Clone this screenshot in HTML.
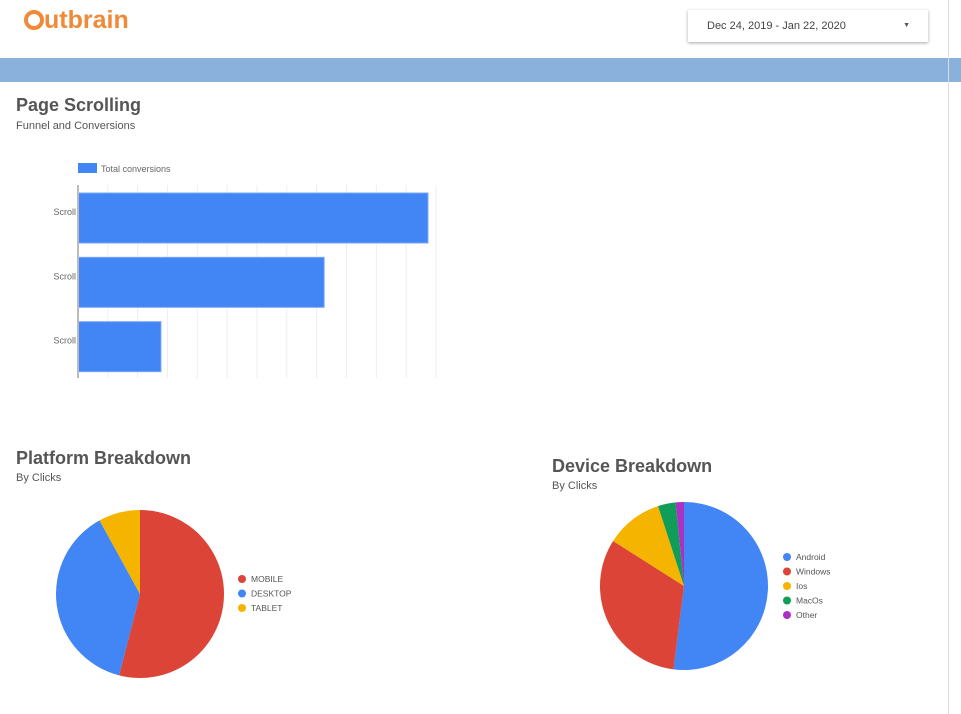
<!DOCTYPE html>
<html><head><meta charset="utf-8"><style>
body{margin:0;width:961px;height:714px;background:#fff;font-family:"Liberation Sans",Arial,sans-serif;position:relative;overflow:hidden}
.abs{position:absolute}
h2{margin:0;font-size:18px;color:#555;font-weight:bold;position:absolute}
.sub{font-size:11px;color:#555;position:absolute}
text{font-family:"Liberation Sans",Arial,sans-serif}
</style></head><body>
<div class="abs" style="left:24px;top:6px;font-size:25px;color:#f08a38;font-weight:bold;letter-spacing:0px">
<span style="display:inline-block;width:20px;height:20px;border:4px solid #f08a38;border-radius:50%;box-sizing:border-box;vertical-align:-2px;position:relative"></span>utbrain</div>
<div class="abs" style="left:688px;top:10px;width:240px;height:32px;box-shadow:0 1px 3px rgba(0,0,0,.35);font-size:11px;color:#444;line-height:32px;box-sizing:border-box;padding-left:19px">Dec 24, 2019 - Jan 22, 2020<span style="position:absolute;right:18px;font-size:7px;color:#555">▼</span></div>
<div class="abs" style="left:0;top:58px;width:961px;height:24px;background:#8ab0dc"></div>
<div class="abs" style="left:948px;top:0;width:1px;height:714px;background:#ddd"></div>

<h2 style="left:16px;top:95px">Page Scrolling</h2>
<div class="sub" style="left:16px;top:120px">Funnel and Conversions</div>
<svg class="abs" id="bar" style="left:0;top:0" width="480" height="410"></svg>

<h2 style="left:16px;top:448px">Platform Breakdown</h2>
<div class="sub" style="left:16px;top:472px">By Clicks</div>
<h2 style="left:552px;top:456px">Device Breakdown</h2>
<div class="sub" style="left:552px;top:480px">By Clicks</div>
<svg class="abs" id="pies" style="left:0;top:490px" width="961" height="224"></svg>

<script>
const barCategories=["Scroll","Scroll","Scroll"];
const barValues=[11.73,8.25,2.78];
const barMax=12;
const platformLabels=["MOBILE","DESKTOP","TABLET"];
const platformValues=[54,38,8];
const deviceLabels=["Android","Windows","Ios","MacOs","Other"];
const deviceValues=[52,32,11,3.4,1.6];

const NS="http://www.w3.org/2000/svg";
function mk(p,t,a){const e=document.createElementNS(NS,t);for(const k in a)e.setAttribute(k,a[k]);p.appendChild(e);return e;}
const bar=document.getElementById('bar');
const x0=78,x1=436,yTop=185,yBot=378;
const xs=v=>x0+(v/barMax)*(x1-x0);
for(let i=1;i<=barMax;i++){const g=mk(bar,'line',{x1:xs(i),x2:xs(i),y1:yTop,y2:yBot,stroke:'#eee'});

}
const band=(yBot-yTop)/barCategories.length;
barCategories.forEach((c,i)=>{
 const y=yTop+band*i+8;
 const r=mk(bar,'rect',{x:x0,y:y,width:xs(barValues[i])-x0,height:50,fill:'#4285f4',stroke:'#7aa7f7','stroke-width':1});
 
 
 const t=mk(bar,'text',{x:x0-2,y:y+22,'text-anchor':'end','font-size':9,fill:'#666'});t.textContent=c;
 
 
});
const ax=mk(bar,'line',{x1:x0,x2:x0,y1:yTop,y2:yBot,stroke:'#bbb','stroke-width':2});


const lg=mk(bar,'rect',{x:78,y:163,width:19,height:10,fill:'#4285f4'});


const lt=mk(bar,'text',{x:101,y:172,'font-size':9,fill:'#666'});lt.textContent='Total conversions';



const pies=document.getElementById('pies');
function pie(cx,cy,r,vals,labels,colors,lx,ly,name){
 const tot=vals.reduce((a,b)=>a+b,0);let a=0;
 vals.forEach((v,i)=>{
  const a2=a+v/tot*2*Math.PI;
  const p=(t)=>[cx+r*Math.sin(t),cy-r*Math.cos(t)];
  const [sx,sy]=p(a),[ex,ey]=p(a2);
  const s=mk(pies,'path',{d:`M${cx},${cy}L${sx},${sy}A${r},${r} 0 ${a2-a>Math.PI?1:0} 1 ${ex},${ey}Z`,fill:colors[i]});
  
  
  a=a2;
  const c=mk(pies,'circle',{cx:lx,cy:ly+i*14.5,r:4,fill:colors[i]});
  
  
  const t=mk(pies,'text',{x:lx+9,y:ly+i*14.5+3,'font-size':8.5,fill:'#555'});t.textContent=labels[i];
  
  
 });
}
pie(140,104,84,platformValues,platformLabels,['#db4437','#4285f4','#f4b400'],242,89,'platform');
pie(684,96,84,deviceValues,deviceLabels,['#4285f4','#db4437','#f4b400','#0f9d58','#ab30c4'],787,67,'device');
</script>
</body></html>
